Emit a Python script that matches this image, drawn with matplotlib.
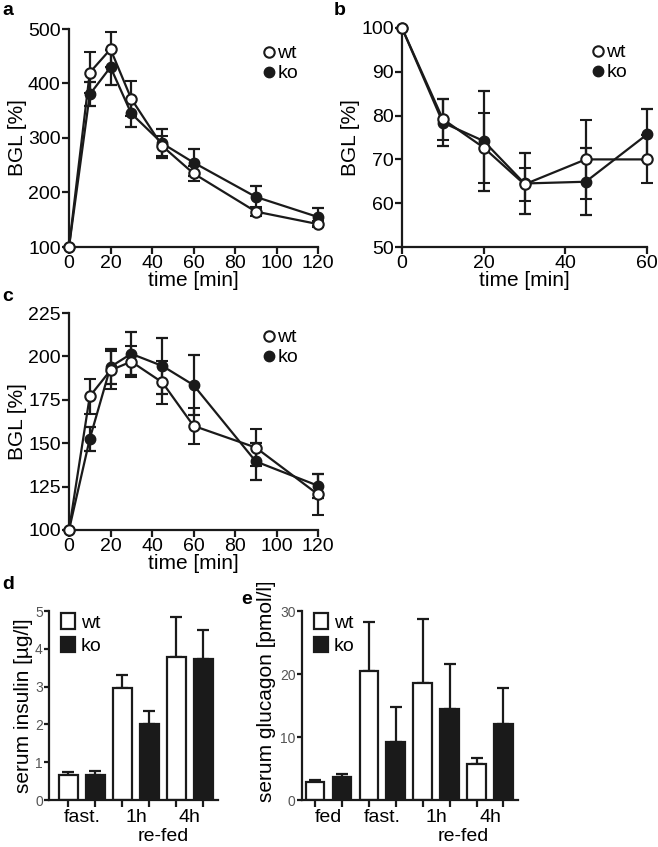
import numpy as np
import matplotlib.pyplot as plt
from matplotlib.lines import Line2D
from matplotlib.transforms import Bbox, TransformedBbox

plt.rcParams['font.family'] = ['Liberation Sans', 'DejaVu Sans']

# panel a
t_a = [0, 10, 20, 30, 45, 60, 90, 120]
a_wt = [100, 420, 463, 372, 285, 235, 165, 142]
a_wt_err = [0, 38, 32, 32, 18, 14, 8, 6]
a_ko = [100, 380, 430, 345, 290, 255, 192, 155]
a_ko_err = [0, 22, 32, 25, 26, 25, 20, 16]

# panel b
t_b = [0, 10, 20, 30, 45, 60]
b_wt = [100, 79.2, 72.7, 64.3, 70.0, 70.0]
b_wt_err = [0, 4.7, 8.0, 3.8, 9.0, 5.5]
b_ko = [100, 78.4, 74.2, 64.5, 64.9, 75.7]
b_ko_err = [0, 5.3, 11.5, 7.0, 7.6, 5.8]

# panel c
t_c = [0, 10, 20, 30, 45, 60, 90, 120]
c_wt = [100, 177, 192, 197, 185, 160, 147.5, 120.5]
c_wt_err = [0, 10, 11, 9, 12.5, 10.5, 10.5, 12]
c_ko = [100, 152.5, 194, 201.5, 194.5, 183.5, 139.5, 125.5]
c_ko_err = [0, 7, 10, 12.5, 16, 17.5, 10.5, 7]

# panel d
d_groups = ['fast.', '1h', '4h']
d_wt = [0.65, 2.97, 3.77]
d_wt_err = [0.08, 0.33, 1.08]
d_ko = [0.67, 2.0, 3.73]
d_ko_err = [0.10, 0.36, 0.77]

# panel e
e_groups = ['fed', 'fast.', '1h', '4h']
e_wt = [2.8, 20.4, 18.6, 5.7]
e_wt_err = [0.4, 7.9, 10.2, 0.9]
e_ko = [3.6, 9.2, 14.4, 12.1]
e_ko_err = [0.5, 5.5, 7.2, 5.7]

W, H = 658, 847
fig = plt.figure(figsize=(W / 100, H / 100), dpi=100)
K = '#1a1a1a'


def box(l, r, t, b):
    return [l / W, 1 - b / H, (r - l) / W, (b - t) / H]


def style(ax, fs=10.5, col='black'):
    for s in ['top', 'right']:
        ax.spines[s].set_visible(False)
    for s in ['left', 'bottom']:
        ax.spines[s].set_linewidth(1.6)
        ax.spines[s].set_color(K)
    ax.tick_params(width=1.6, length=5, labelsize=fs, colors=K,
                   labelcolor=col, pad=1)


def line_panel(ax, t, wt, wt_err, ko, ko_err):
    ax.errorbar(t, ko, yerr=ko_err, color=K, lw=1.6, capsize=4.5,
                capthick=1.6, marker='o', ms=7.5, mfc=K, mec=K,
                clip_on=False, zorder=3)
    ax.errorbar(t, wt, yerr=wt_err, color=K, lw=1.6, capsize=4.5,
                capthick=1.6, marker='o', ms=7.5, mfc='white', mec=K,
                mew=1.5, clip_on=False, zorder=4)
    hw = Line2D([], [], ls='none', marker='o', ms=7.5, mfc='white', mec=K, mew=1.5)
    hk = Line2D([], [], ls='none', marker='o', ms=7.5, mfc=K, mec=K)
    ax.legend([hw, hk], ['wt', 'ko'], loc='upper right',
              bbox_to_anchor=(0.975, 0.99), frameon=False, fontsize=14,
              handlelength=0.55, handletextpad=0.15, labelspacing=0.12,
              borderpad=0.2)
    ax.set_ylabel('BGL [%]', fontsize=15, labelpad=1)
    ax.set_xlabel('time [min]', fontsize=15, labelpad=-1)
    style(ax, fs=14)


ax_a = fig.add_axes(box(69, 318, 29, 247))
line_panel(ax_a, t_a, a_wt, a_wt_err, a_ko, a_ko_err)
ax_a.set_xlim(0, 120)
ax_a.set_ylim(100, 500)
ax_a.set_xticks(np.arange(0, 121, 20))
ax_a.set_yticks(np.arange(100, 501, 100))

ax_b = fig.add_axes(box(402, 647, 28, 247))
line_panel(ax_b, t_b, b_wt, b_wt_err, b_ko, b_ko_err)
ax_b.set_xlim(0, 60)
ax_b.set_ylim(50, 100)
ax_b.set_xticks(np.arange(0, 61, 20))
ax_b.set_yticks(np.arange(50, 101, 10))

ax_c = fig.add_axes(box(69, 318, 313, 530))
line_panel(ax_c, t_c, c_wt, c_wt_err, c_ko, c_ko_err)
ax_c.set_xlim(0, 120)
ax_c.set_ylim(100, 225)
ax_c.set_xticks(np.arange(0, 121, 20))
ax_c.set_yticks(np.arange(100, 226, 25))


def bar_panel(ax, groups, wt, wt_err, ko, ko_err, wbar):
    n = len(groups)
    xw = np.arange(n) * 2
    xk = xw + 1
    ax.bar(xw, wt, width=wbar, color='white', edgecolor=K, lw=1.6,
           label='wt', zorder=2)
    ax.errorbar(xw, wt, yerr=[np.zeros(n), wt_err], fmt='none',
                ecolor=K, elinewidth=1.6, capsize=4.5, capthick=1.6, zorder=1)
    ax.bar(xk, ko, width=wbar, color=K, edgecolor=K, lw=1.6,
           label='ko', zorder=2)
    ax.errorbar(xk, ko, yerr=[np.zeros(n), ko_err], fmt='none',
                ecolor=K, elinewidth=1.6, capsize=4.5, capthick=1.6, zorder=1)
    ax.set_xticks(np.arange(2 * n))
    ax.set_xticklabels([])
    for i, g in enumerate(groups):
        ax.text(2 * i + 0.5, -0.05, g, transform=ax.get_xaxis_transform(),
                ha='center', va='top', fontsize=14)
    ax.text(2 * n - 2.5, -0.15, 're-fed', transform=ax.get_xaxis_transform(),
            ha='center', va='top', fontsize=14)
    ax.legend(loc='upper left', bbox_to_anchor=(0.0, 1.05), frameon=False,
              fontsize=14, handlelength=0.75, handleheight=0.85,
              handletextpad=0.3, labelspacing=0.25, borderpad=0.1)
    style(ax, fs=10, col='#555555')
    ax.tick_params(axis='y', length=3.5)


ax_d = fig.add_axes(box(49, 218, 611, 800))
bar_panel(ax_d, d_groups, d_wt, d_wt_err, d_ko, d_ko_err, 0.7)
ax_d.set_xlim(-0.72, 5.54)
ax_d.set_ylim(0, 5)
ax_d.set_yticks(np.arange(0, 6, 1))
ax_d.set_ylabel('serum insulin [µg/l]', fontsize=15, labelpad=1)

ax_e = fig.add_axes(box(302, 518, 611, 800))
bar_panel(ax_e, e_groups, e_wt, e_wt_err, e_ko, e_ko_err, 0.69)
ax_e.set_xlim(-0.48, 7.54)
ax_e.set_ylim(0, 30)
ax_e.set_yticks([0, 10, 20, 30])
# the reference cuts this label off at the top
ylab_e = fig.text(266 / W, 1 - 802 / H, 'serum glucagon [pmol/l]', fontsize=15,
                  rotation=90, ha='center', va='bottom')
ylab_e.set_clip_box(TransformedBbox(Bbox([[0, 0], [1, 1 - 583 / H]]),
                                    fig.transFigure))
ylab_e.set_clip_on(True)

for lab, x, y in [('a', 2, 2), ('b', 334, 2), ('c', 2, 288), ('d', 2, 576),
                  ('e', 241, 591)]:
    fig.text(x / W, 1 - y / H, lab, fontsize=14, fontweight='bold',
             ha='left', va='top')

fig.savefig('out.png', dpi=100)
